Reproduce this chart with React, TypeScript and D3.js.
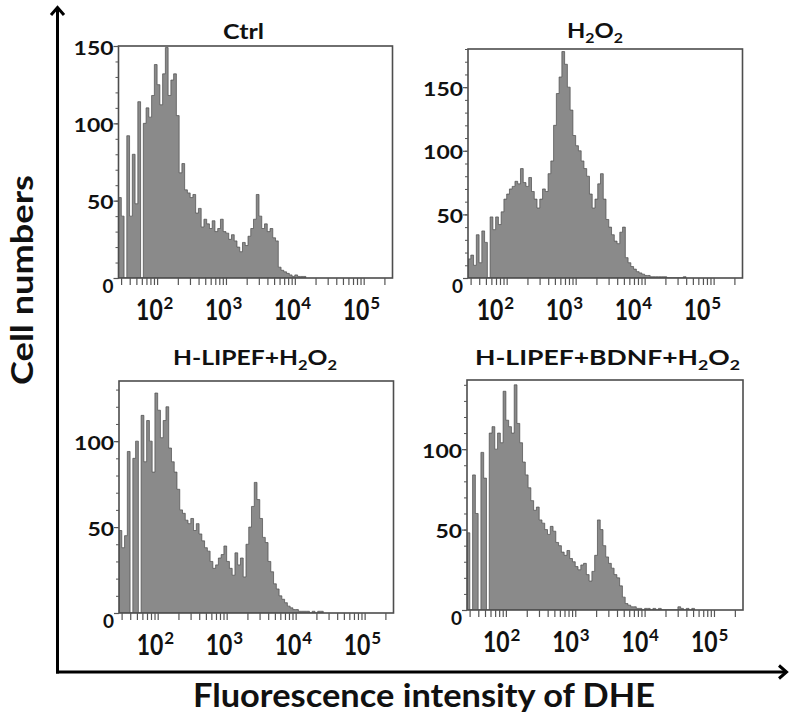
import React, { useEffect, useRef } from 'react'
import * as d3 from 'd3'

// flow cytometry channels: equal steps in log10 of the DHE intensity
const binStartLog = 1.44
const binStepLog = 0.04
const xDomain = [27.5, 262144]

const panelTitles = ['Ctrl', 'H2O2', 'H-LIPEF+H2O2', 'H-LIPEF+BDNF+H2O2']
const yMaxes = [150, 180, 135, 143]
const yLabelTicks = [[0, 50, 100, 150], [0, 50, 100, 150], [0, 50, 100], [0, 50, 100]]
const decades = [2, 3, 4, 5]

const ctrlCounts = [
  52, 40, 0, 92, 40, 80, 48, 114, 0, 100,
  110, 104, 118, 138, 125, 112, 132, 149, 118, 128,
  132, 105, 68, 74, 57, 55, 52, 54, 42, 45,
  33, 38, 35, 32, 37, 30, 32, 38, 30, 29,
  25, 28, 24, 20, 17, 23, 21, 27, 32, 38,
  54, 40, 32, 35, 30, 32, 26, 24, 7, 5,
  4, 3, 2, 1, 2, 1, 1, 1,
]

const h2o2Counts = [
  15, 18, 10, 34, 12, 37, 28, 0, 48, 38,
  48, 42, 52, 62, 66, 70, 72, 76, 74, 86,
  75, 72, 79, 68, 62, 55, 62, 70, 68, 82,
  92, 120, 145, 158, 178, 168, 150, 132, 112, 104,
  100, 92, 86, 80, 66, 55, 62, 74, 82, 62,
  46, 40, 34, 29, 27, 36, 40, 16, 12, 9,
  7, 5, 4, 3, 2, 2, 1, 1, 1, 1,
  1, 1, 0, 0, 0, 0, 0, 0, 1,
]

const lipefCounts = [
  48, 38, 45, 94, 0, 90, 100, 0, 115, 88,
  112, 100, 82, 128, 118, 102, 112, 120, 96, 88,
  82, 72, 60, 58, 54, 52, 55, 48, 52, 46,
  42, 38, 36, 30, 26, 28, 32, 34, 39, 30,
  26, 22, 35, 28, 32, 21, 40, 50, 62, 76,
  66, 55, 44, 41, 30, 24, 17, 14, 10, 8,
  6, 4, 3, 2, 2, 1, 1, 1, 1, 0,
  1, 0, 1, 1,
]

const bdnfCounts = [
  48, 0, 84, 60, 0, 98, 82, 0, 110, 114,
  100, 110, 104, 136, 118, 114, 110, 140, 116, 104,
  92, 84, 76, 68, 62, 64, 56, 54, 50, 47,
  52, 49, 42, 40, 36, 34, 37, 32, 30, 27,
  25, 28, 29, 22, 18, 24, 34, 56, 50, 40,
  33, 29, 26, 22, 20, 15, 8, 4, 3, 2,
  2, 1, 1, 0, 1, 1, 0, 1, 0, 1,
  0, 0, 0, 0, 0, 0, 2, 1, 0, 1,
  0, 1,
]

const series = [ctrlCounts, h2o2Counts, lipefCounts, bdnfCounts]

// where each histogram box sits on the page
const panels = [
  { x0: 118.5, x1: 392.5, top: 46, base: 278, titleX: 243.5, titleY: 39, titleW: 41, labelDx: 0 },
  { x0: 468, x1: 742.5, top: 49, base: 278, titleX: 595, titleY: 38, titleW: 56, labelDx: -9 },
  { x0: 119, x1: 393.5, top: 381, base: 613, titleX: 255, titleY: 365, titleW: 164, labelDx: 0 },
  { x0: 467, x1: 743, top: 380, base: 610, titleX: 607.5, titleY: 365, titleW: 265, labelDx: -2 },
]

const FONT = 'Lato, "Open Sans", sans-serif'

const App = () => {
  const svgRef = useRef(null)

  useEffect(() => {
    const svg = d3.select(svgRef.current)
    svg.selectAll('*').remove()

    panels.forEach((p, k) => {
      const counts = series[k]
      const x = d3.scaleLog().domain(xDomain).range([p.x0, p.x1])
      const y = d3.scaleLinear().domain([0, yMaxes[k]]).range([p.base, p.top])
      const g = svg.append('g')

      const clipId = `clip-${k}`
      g.append('clipPath').attr('id', clipId)
        .append('rect')
        .attr('x', p.x0).attr('y', p.top - 1)
        .attr('width', p.x1 - p.x0).attr('height', p.base - p.top + 1)

      const bins = counts.map((c, i) => ({ lo: Math.pow(10, binStartLog + i * binStepLog), c }))
      bins.push({ lo: Math.pow(10, binStartLog + counts.length * binStepLog), c: 0 })

      const area = d3.area()
        .x(d => x(d.lo))
        .y0(p.base)
        .y1(d => y(d.c))
        .curve(d3.curveStepAfter)

      g.append('path')
        .datum(bins)
        .attr('d', area)
        .attr('fill', '#8a8a8a')
        .attr('stroke', '#4a4a4a')
        .attr('stroke-width', 0.7)
        .attr('clip-path', `url(#${clipId})`)

      g.append('rect')
        .attr('x', p.x0).attr('y', p.top)
        .attr('width', p.x1 - p.x0).attr('height', p.base - p.top)
        .attr('fill', 'none')
        .attr('stroke', '#4d4d4d')
        .attr('stroke-width', 1.6)

      // log ticks under the box
      g.append('g')
        .attr('transform', `translate(0,${p.base})`)
        .call(d3.axisBottom(x).tickSize(7).tickSizeOuter(0).tickFormat(() => ''))
        .call(a => a.select('.domain').remove())
        .selectAll('line').attr('stroke', '#555').attr('stroke-width', 1.2)

      // count ticks on the left edge
      const yMinor = d3.range(0, yMaxes[k] + 1, 10)
      g.append('g')
        .attr('transform', `translate(${p.x0},0)`)
        .call(d3.axisLeft(y).tickValues(yMinor).tickSize(3).tickSizeOuter(0).tickFormat(() => ''))
        .call(a => a.select('.domain').remove())
        .selectAll('line').attr('stroke', '#555').attr('stroke-width', 1)
      g.append('g')
        .attr('transform', `translate(${p.x0},0)`)
        .call(d3.axisLeft(y).tickValues(yLabelTicks[k]).tickSize(5).tickSizeOuter(0).tickFormat(() => ''))
        .call(a => a.select('.domain').remove())
        .selectAll('line').attr('stroke', '#555').attr('stroke-width', 1.2)

      yLabelTicks[k].forEach(v => {
        const label = String(v)
        g.append('text')
          .attr('x', p.x0 - 5)
          .attr('y', v === 0 ? p.base + 15 : y(v) + 8.5)
          .attr('text-anchor', 'end')
          .attr('font-size', 19)
          .attr('textLength', label.length === 1 ? 11 : label.length * 13.3)
          .attr('lengthAdjust', 'spacingAndGlyphs')
          .text(label)
      })

      // decade labels: "10" squeezed a little, exponent as its own text
      decades.forEach(d => {
        const cx = x(Math.pow(10, d)) + p.labelDx
        g.append('text')
          .attr('transform', `translate(${cx - 21},${p.base + 42}) scale(0.82,1)`)
          .attr('font-size', 28)
          .text('10')
        g.append('text')
          .attr('x', cx + 6.5)
          .attr('y', p.base + 31)
          .attr('font-size', 17)
          .text(d)
      })

      const title = g.append('text')
        .attr('x', p.titleX)
        .attr('y', p.titleY)
        .attr('text-anchor', 'middle')
        .attr('font-size', 21)
        .attr('textLength', p.titleW)
        .attr('lengthAdjust', 'spacingAndGlyphs')
      let sub = false
      panelTitles[k].match(/\d+|\D+/g).forEach(run => {
        const isDigit = /\d/.test(run)
        const dy = isDigit && !sub ? 5 : !isDigit && sub ? -5 : 0
        title.append('tspan')
          .attr('dy', dy)
          .attr('font-size', isDigit ? 14 : 21)
          .text(run)
        sub = isDigit
      })
    })

    // outer axes with open arrow heads
    const axes = svg.append('g').attr('stroke', '#000').attr('stroke-width', 3).attr('fill', 'none')
    axes.append('line').attr('x1', 57.5).attr('y1', 7).attr('x2', 57.5).attr('y2', 673.5)
    axes.append('line').attr('x1', 56).attr('y1', 672).attr('x2', 786).attr('y2', 672)
    axes.append('path').attr('d', 'M51,15L57.5,7.5L64,15')
    axes.append('path').attr('d', 'M779,665.5L786.5,672L779,678.5')

    svg.append('text')
      .attr('transform', 'translate(32.5,280) rotate(-90)')
      .attr('text-anchor', 'middle')
      .attr('font-size', 30)
      .attr('textLength', 210)
      .attr('lengthAdjust', 'spacingAndGlyphs')
      .text('Cell numbers')

    svg.append('text')
      .attr('x', 424)
      .attr('y', 707)
      .attr('text-anchor', 'middle')
      .attr('font-size', 32)
      .attr('textLength', 462)
      .attr('lengthAdjust', 'spacingAndGlyphs')
      .text('Fluorescence intensity of DHE')
  }, [])

  return (
    <svg
      ref={svgRef}
      width="792"
      height="716"
      viewBox="0 0 792 716"
      style={{ position: 'absolute', left: 0, top: 0, background: '#fff' }}
      fontFamily={FONT}
      fontWeight="700"
      fill="#111"
    />
  )
}

export default App
